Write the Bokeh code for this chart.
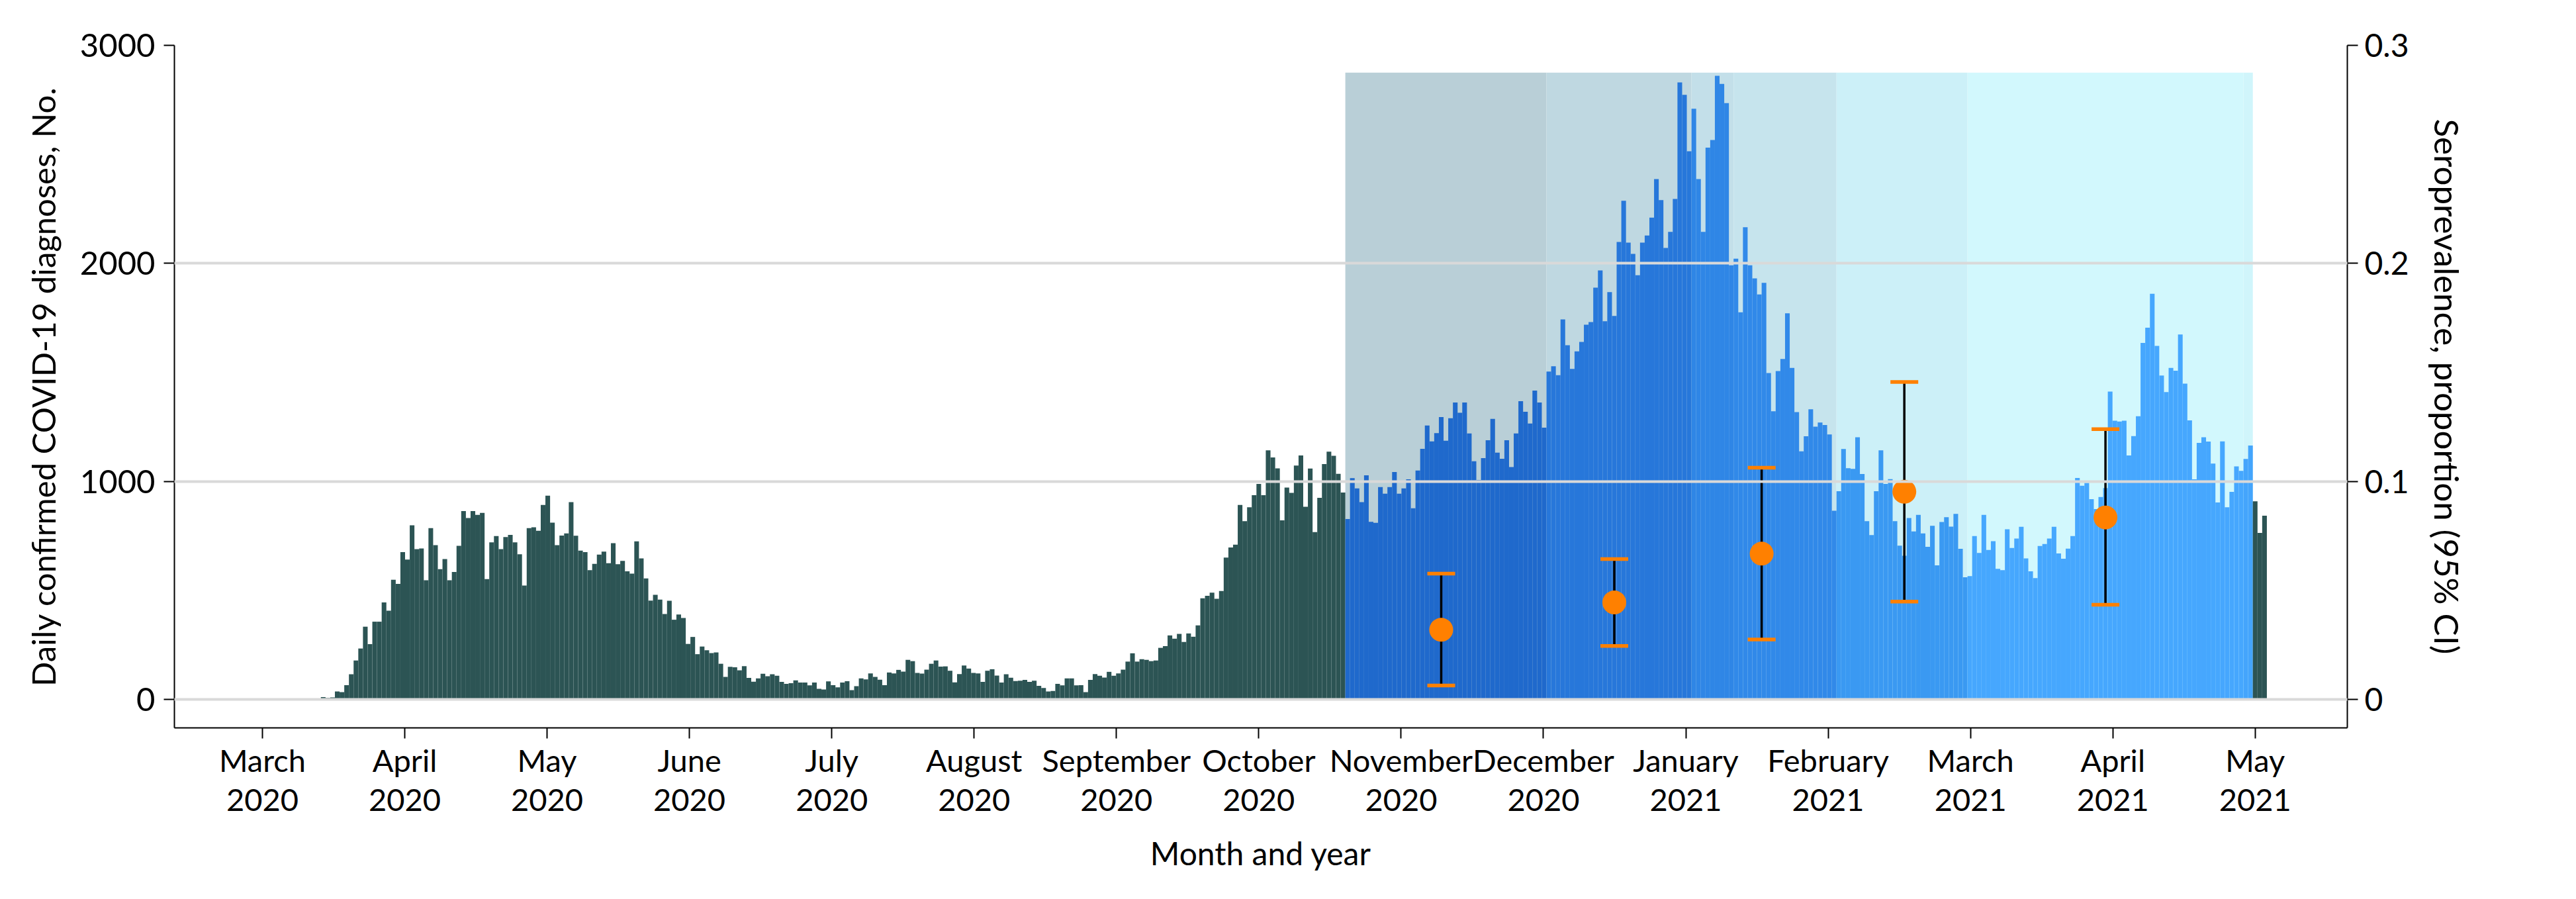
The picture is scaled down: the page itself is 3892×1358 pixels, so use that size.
from datetime import date
from bokeh.plotting import figure
from bokeh.models import Range1d, LinearAxis, FixedTicker, ColumnDataSource
from bokeh.embed import file_html
from bokeh.resources import INLINE

ORIGIN = date(2020, 3, 1)   # day 0 of the x axis

# ---------------- daily confirmed COVID-19 diagnoses, by calendar month ----------------
cases_2020_03 = [0, 0, 0, 0, 0, 0, 0, 0, 0, 0, 3, 0, 0, 11, 7, 10, 37, 34, 66, 116,
                 179, 234, 334, 254, 357, 357, 445, 407, 549, 530, 676]
cases_2020_04 = [642, 799, 690, 693, 547, 786, 708, 598, 644, 547, 585, 705, 864, 832, 864,
                 847, 856, 552, 721, 750, 690, 745, 755, 721, 666, 523, 786, 790, 774, 892]
cases_2020_05 = [935, 811, 708, 752, 762, 905, 751, 683, 676, 593, 622, 665, 678, 625, 717,
                 621, 636, 588, 577, 725, 647, 555, 454, 480, 458, 392, 453, 366, 390, 374, 255]
cases_2020_06 = [287, 208, 243, 226, 213, 216, 164, 104, 150, 148, 134, 153, 99, 82, 97,
                 118, 107, 116, 109, 81, 72, 75, 88, 78, 78, 65, 78, 49, 46, 83]
cases_2020_07 = [66, 56, 78, 84, 43, 61, 97, 92, 120, 104, 91, 66, 124, 120, 136, 128,
                 182, 176, 122, 119, 137, 164, 179, 151, 152, 132, 79, 117, 156, 142, 122]
cases_2020_08 = [120, 81, 132, 139, 110, 78, 116, 100, 85, 86, 90, 81, 86, 63, 53, 37,
                 39, 72, 65, 97, 97, 65, 66, 34, 90, 117, 109, 101, 127, 109, 120]
cases_2020_09 = [137, 174, 212, 174, 185, 182, 176, 179, 237, 245, 294, 279, 301, 264, 303,
                 288, 340, 464, 476, 490, 462, 498, 651, 697, 710, 892, 818, 882, 937, 989]
cases_2020_10 = [937, 1143, 1110, 1060, 822, 972, 948, 1073, 1119, 884, 1059, 768, 925, 1080,
                 1137, 1118, 1035, 949, 828, 1015, 968, 905, 1028, 815, 810, 974, 944, 974,
                 1043, 944, 968]
cases_2020_11 = [1010, 877, 1050, 1150, 1257, 1184, 1222, 1295, 1187, 1290, 1362, 1315, 1362,
                 1220, 1093, 1007, 1107, 1189, 1287, 1132, 1104, 1189, 1066, 1220, 1368, 1320,
                 1266, 1417, 1362, 1247]
cases_2020_12 = [1504, 1528, 1487, 1743, 1625, 1516, 1597, 1640, 1719, 1731, 1889, 1968, 1735,
                 1868, 1759, 2098, 2287, 2095, 2044, 1946, 2095, 2128, 2210, 2387, 2290, 2071,
                 2145, 2296, 2830, 2773, 2514]
cases_2021_01 = [2709, 2387, 2145, 2531, 2566, 2860, 2823, 2735, 1991, 2022, 1776, 2166, 1991,
                 1931, 1858, 1911, 1497, 1322, 1506, 1562, 1771, 1521, 1318, 1138, 1207, 1331,
                 1251, 1270, 1259, 1216, 866]
cases_2021_02 = [955, 1149, 1061, 1058, 1203, 1034, 818, 754, 955, 1143, 989, 1011, 818, 706,
                 659, 832, 771, 847, 762, 700, 797, 615, 814, 836, 793, 851, 691, 561]
cases_2021_03 = [566, 750, 672, 847, 686, 726, 599, 593, 781, 695, 738, 792, 647, 588, 557,
                 704, 713, 738, 792, 670, 646, 692, 750, 1016, 980, 993, 919, 873, 929, 970, 1412]
cases_2021_04 = [1279, 1275, 1279, 1119, 1208, 1299, 1635, 1705, 1861, 1622, 1486, 1410, 1521,
                 1508, 1674, 1449, 1280, 1010, 1177, 1203, 1183, 1082, 904, 1184, 882, 952,
                 1069, 1049, 1103, 1165]
cases_2021_05 = [909, 764, 843]

month_starts = ["2020-03-01", "2020-04-01", "2020-05-01", "2020-06-01", "2020-07-01",
                "2020-08-01", "2020-09-01", "2020-10-01", "2020-11-01", "2020-12-01",
                "2021-01-01", "2021-02-01", "2021-03-01", "2021-04-01", "2021-05-01"]
month_cases = [cases_2020_03, cases_2020_04, cases_2020_05, cases_2020_06, cases_2020_07,
               cases_2020_08, cases_2020_09, cases_2020_10, cases_2020_11, cases_2020_12,
               cases_2021_01, cases_2021_02, cases_2021_03, cases_2021_04, cases_2021_05]

# ---------------- x tick labels ----------------
tick_months = ["March", "April", "May", "June", "July", "August", "September", "October",
               "November", "December", "January", "February", "March", "April", "May"]
tick_years = ["2020"] * 10 + ["2021"] * 5

# ---------------- sampling periods (shaded) ----------------
period_start = ["2020-10-19", "2020-12-01", "2021-01-01", "2021-01-10", "2021-02-01",
                "2021-03-01", "2021-04-29"]
period_end = ["2020-12-01", "2021-01-01", "2021-01-10", "2021-02-01", "2021-03-01",
              "2021-04-29", "2021-05-01"]
period_bg = ["#B9CFD7", "#BFD8E1", "#C3DFE9", "#C6E4ED", "#CCF0F8", "#D2F8FD", "#D0F5FB"]
period_bar = ["#1F69CC", "#2777DA", "#2F86E6", "#3189E9", "#3A99F2", "#46A7FE", "#44A5FC"]
period_top = 2875

# ---------------- seroprevalence (95% CI) ----------------
sero_day = [252, 289, 320.5, 351, 394]
sero_est = [0.032, 0.0445, 0.0669, 0.0953, 0.0835]
sero_lo = [0.0064, 0.0246, 0.0275, 0.0449, 0.0435]
sero_hi = [0.0577, 0.0644, 0.1063, 0.1456, 0.124]

GREEN = "#2C5454"
ORANGE = "#FF8000"
FONT = "Lato"


def day_of(s):
    y, m, d = map(int, s.split("-"))
    return (date(y, m, d) - ORIGIN).days


ps = [day_of(s) - 0.5 for s in period_start]
pe = [day_of(s) - 0.5 for s in period_end]

days, counts, colors = [], [], []
for start, vals in zip(month_starts, month_cases):
    d0 = day_of(start)
    for i, v in enumerate(vals):
        d = d0 + i
        c = GREEN
        for k in range(len(ps)):
            if ps[k] < d < pe[k]:
                c = period_bar[k]
        days.append(d)
        counts.append(v)
        colors.append(c)

bars = ColumnDataSource(dict(left=[d - 0.5 for d in days], right=[d + 0.5 for d in days],
                             top=counts, color=colors))

p = figure(width=3876, height=1342, output_backend="svg", toolbar_location=None,
           x_range=Range1d(-18.81, 445.7), y_range=Range1d(-130, 3000),
           min_border_left=263, min_border_right=330, min_border_top=68,
           min_border_bottom=243)
p.outline_line_color = None
p.background_fill_color = "white"
p.border_fill_color = "white"

# shaded periods
p.quad(left=ps, right=pe, bottom=0, top=period_top, fill_color=period_bg, line_color=None)
# bars
p.quad(left="left", right="right", bottom=0, top="top", fill_color="color",
       line_color=None, source=bars)

# secondary axis
p.extra_y_ranges = {"sero": Range1d(-0.013, 0.3)}
p.segment(x0=sero_day, y0=sero_lo, x1=sero_day, y1=sero_hi, line_color="black",
          line_width=3.5, y_range_name="sero")
p.rect(x=sero_day + sero_day, y=sero_lo + sero_hi, width=42, height=5.5,
       width_units="screen", height_units="screen", fill_color=ORANGE, line_color=None,
       y_range_name="sero")
p.scatter(x=sero_day, y=sero_est, size=36, fill_color=ORANGE, line_color=None,
          y_range_name="sero")

# grid
p.xgrid.visible = False
p.ygrid.ticker = FixedTicker(ticks=[0, 1000, 2000, 3000])
p.ygrid.grid_line_color = "#D9D9D9"
p.ygrid.grid_line_width = 4
p.ygrid.level = "overlay"


def style(ax, size="47px", title_size="48px"):
    ax.axis_line_width = 2
    ax.axis_line_color = "black"
    ax.major_tick_line_width = 2
    ax.major_tick_line_color = "black"
    ax.major_tick_out = 16
    ax.major_tick_in = 0
    ax.minor_tick_line_color = None
    ax.major_label_text_font = FONT
    ax.major_label_text_font_size = size
    ax.major_label_text_color = "black"
    ax.axis_label_text_font = FONT
    ax.axis_label_text_font_size = title_size
    ax.axis_label_text_font_style = "normal"
    ax.axis_label_text_color = "black"


# x axis
xt = [k * 426 / 14 for k in range(15)]
xa = p.xaxis[0]
xa.ticker = FixedTicker(ticks=xt)
xa.major_label_overrides = {t: m + "\n" + y for t, m, y in zip(xt, tick_months, tick_years)}
xa.axis_label = "Month and year"
style(xa)
xa.major_label_text_line_height = 1.07
xa.major_label_standoff = 4
xa.axis_label_standoff = 22

# left axis
ya = p.yaxis[0]
ya.ticker = FixedTicker(ticks=[0, 1000, 2000, 3000])
ya.axis_label = "Daily confirmed COVID-19 diagnoses, No."
style(ya, size="49px", title_size="49px")
ya.major_label_standoff = 13
ya.axis_label_standoff = 24

# right axis
ra = LinearAxis(y_range_name="sero")
ra.ticker = FixedTicker(ticks=[0, 0.1, 0.2, 0.3])
ra.major_label_overrides = {0: "0", 0.1: "0.1", 0.2: "0.2", 0.3: "0.3"}
ra.axis_label = "Seroprevalence, proportion (95% CI)"
style(ra, size="48px", title_size="51px")
ra.major_label_standoff = 10
ra.axis_label_standoff = 24
p.add_layout(ra, "right")

open("out.html", "w").write(file_html(p, INLINE))
